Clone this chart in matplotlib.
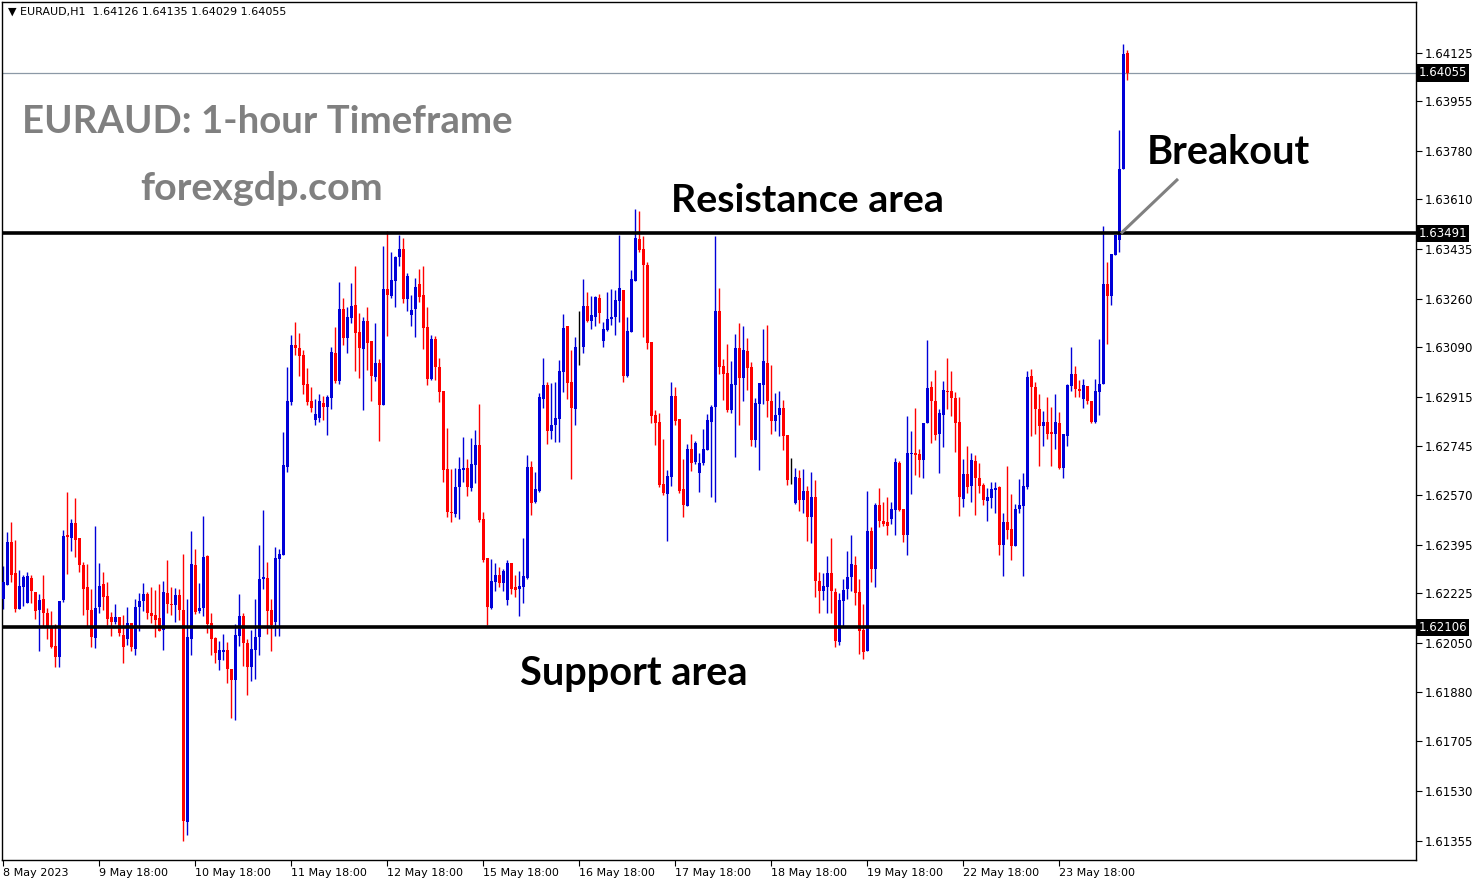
import numpy as np
import matplotlib
matplotlib.use("Agg")
import matplotlib.pyplot as plt
import matplotlib.transforms as mtransforms

# ---- data: EURAUD H1 candles, prices in points (1e-5) ----
open_pts = [
    162206,162255,162406,162297,162170,162248,162192,162279,162230,162167,
    162206,162156,162107,162040,162002,162202,162431,162420,162473,162420,
    162325,162248,162167,162068,162177,162258,162216,162142,162125,162142,
    162079,162065,162121,162030,162177,162198,162223,162156,162149,162139,
    162097,162227,162188,162184,162220,162167,161422,162065,162325,162163,
    162174,162357,162121,162068,161991,162019,162026,161960,161921,162076,
    162146,162051,161967,162026,162072,162276,162279,162167,162125,162346,
    162360,162670,162898,163098,163088,163063,162961,162902,162835,162842,
    162895,162880,162912,163070,162972,163225,163123,163193,163239,163144,
    163084,163183,163112,162986,163035,162887,163295,163271,163323,163408,
    163436,163260,163204,163225,163313,163274,163162,162979,163119,163021,
    162937,162663,162511,162504,162599,162659,162666,162596,162677,162747,
    162487,162350,162174,162265,162290,162262,162202,162332,162248,162241,
    162248,162279,162670,162547,162585,162909,162958,162796,162817,162838,
    163003,163165,162968,162873,163091,163091,163235,163183,163197,163264,
    163112,163151,163190,163197,163253,163292,162989,163144,163323,163471,
    163436,163380,163109,162852,162828,162610,162575,162634,162919,162838,
    162592,162532,162733,162687,162648,162684,162729,162828,162880,163218,
    163025,163000,162870,162958,163088,162982,163077,163021,162764,162891,
    162958,163035,162902,162831,162852,162877,162782,162624,162543,162631,
    162554,162585,162494,162564,162269,162234,162248,162297,162230,162054,
    162198,162241,162283,162325,162230,162097,162023,162445,162311,162536,
    162480,162476,162487,162518,162684,162522,162431,162715,162719,162715,
    162694,162824,162951,162902,162786,162852,162937,162937,162912,162828,
    162557,162645,162603,162691,162631,162606,162550,162561,162589,162599,
    162395,162476,162452,162392,162522,162532,162599,162989,162951,162873,
    162814,162828,162793,162786,162824,162666,162779,162954,162996,162944,
    162909,162954,162902,162828,162933,162961,163313,163271,163415,163467,
    163717,164126,
]
high_pts = [
    162322,162441,162476,162413,162307,162290,162300,162290,162230,162223,
    162290,162174,162163,162118,162198,162448,162582,162487,162561,162420,
    162336,162329,162241,162462,162332,162300,162265,162160,162188,162142,
    162149,162177,162121,162206,162227,162262,162230,162248,162237,162258,
    162269,162343,162248,162244,162241,162364,162206,162445,162381,162262,
    162497,162360,162156,162072,162058,162083,162054,161960,162118,162223,
    162156,162065,162097,162206,162395,162518,162336,162206,162388,162381,
    162793,163021,163134,163179,163141,163081,163018,162951,162909,162926,
    162919,162923,163091,163162,163320,163264,163232,163316,163376,163211,
    163197,163232,163112,163176,163049,163446,163499,163425,163411,163485,
    163474,163351,163274,163334,163366,163376,163232,163134,163130,163053,
    162937,162807,162663,162666,162705,162775,162698,162771,162800,162891,
    162511,162350,162346,162332,162318,162311,162343,162332,162290,162304,
    162420,162712,162691,162652,162930,163053,162968,162965,162968,163046,
    163207,163165,163081,163126,163218,163330,163285,163271,163271,163278,
    163179,163285,163295,163292,163485,163292,163197,163362,163576,163569,
    163482,163390,163109,162870,162859,162768,162659,162968,162951,162838,
    162698,162750,162786,162761,162719,162803,162856,162887,163482,163299,
    163049,163102,163042,163137,163176,163165,163123,163039,162912,162965,
    163155,163169,163028,162930,162937,162905,162782,162701,162666,162659,
    162663,162603,162652,162624,162300,162297,162357,162420,162244,162227,
    162276,162374,162431,162357,162276,162188,162585,162459,162543,162596,
    162547,162564,162547,162701,162691,162522,162849,162796,162877,162733,
    162694,163116,162972,163010,162873,162972,163053,163007,162933,162916,
    162698,162743,162719,162712,162684,162613,162596,162617,162617,162603,
    162508,162673,162575,162539,162627,162648,163007,163014,162968,162926,
    162866,162916,162880,162926,162863,162786,162961,163091,163025,162975,
    162979,162954,162902,162979,163119,163517,163390,163418,163485,163854,
    164156,164135,
]
low_pts = [
    162170,162255,162265,162160,162170,162181,162192,162192,162135,162023,
    162111,162065,162033,161967,161967,162195,162293,162374,162353,162300,
    162149,162107,162037,162033,162156,162167,162114,162076,162118,162076,
    161981,162044,162023,162009,162093,162163,162135,162121,162072,162093,
    162026,162156,162149,162125,162132,161355,161376,162009,162153,162156,
    162146,162086,162009,161981,161956,161991,161910,161787,161780,162040,
    161970,161868,161917,161924,162009,162241,162083,162023,162076,162076,
    162360,162652,162887,163063,162989,162926,162887,162863,162817,162828,
    162835,162782,162873,162965,162961,163098,163070,163176,163007,162982,
    162870,163010,162902,162972,162761,162887,163130,163264,163232,163376,
    163246,163218,163165,163126,163250,163084,162958,162975,162975,162898,
    162617,162494,162476,162494,162487,162617,162568,162585,162613,162476,
    162336,162114,162170,162234,162248,162234,162184,162223,162213,162146,
    162192,162276,162501,162543,162582,162877,162750,162768,162757,162757,
    162933,162909,162627,162817,163028,163070,163179,163155,163165,163176,
    163091,163148,163169,163134,163179,162968,162986,163144,163323,163425,
    163126,163084,162824,162747,162599,162571,162409,162603,162817,162578,
    162494,162532,162655,162680,162582,162677,162729,162564,162547,162996,
    162905,162863,162859,162705,162817,162902,162940,162743,162740,162659,
    162891,162845,162786,162796,162779,162729,162606,162610,162539,162515,
    162508,162409,162402,162213,162156,162202,162156,162156,162037,162044,
    162107,162206,162234,162184,162012,161995,162023,162265,162248,162459,
    162462,162431,162469,162431,162515,162406,162360,162575,162641,162634,
    162631,162824,162754,162764,162648,162740,162873,162849,162722,162497,
    162529,162578,162547,162501,162578,162536,162480,162525,162508,162360,
    162286,162416,162343,162392,162508,162286,162592,162779,162786,162673,
    162743,162768,162673,162733,162663,162631,162743,162937,162916,162916,
    162877,162891,162824,162824,162852,162961,163102,163239,163415,163425,
    163717,164029,
]
close_pts = [
    162265,162406,162290,162170,162251,162283,162286,162234,162163,162202,
    162156,162107,162037,162002,162198,162427,162423,162473,162413,162325,
    162241,162167,162072,162174,162251,162213,162135,162125,162142,162086,
    162037,162121,162037,162177,162198,162223,162156,162146,162132,162093,
    162230,162188,162184,162220,162167,161425,162072,162329,162160,162174,
    162353,162118,162065,162016,162026,162026,161960,161921,162079,162146,
    162051,161967,162030,162072,162276,162283,162163,162114,162350,162364,
    162677,162902,163098,163088,163060,162958,162898,162877,162856,162902,
    162880,162916,163074,162972,163225,163123,163197,163235,163141,163088,
    163183,163105,162989,163035,162887,163295,163274,163327,163408,163436,
    163260,163341,163221,163302,163267,163158,162979,163119,163021,162933,
    162659,162511,162508,162599,162663,162666,162599,162680,162747,162483,
    162343,162177,162269,162290,162262,162304,162332,162241,162237,162251,
    162286,162670,162543,162592,162916,162958,162796,162817,162842,163007,
    163158,162965,162877,163091,163091,163235,163183,163204,163267,163211,
    163155,163190,163197,163257,163299,162989,163148,163330,163474,163432,
    163380,163105,162849,162824,162606,162578,162638,162919,162831,162585,
    162536,162733,162684,162754,162684,162733,162835,162880,163218,163021,
    162996,162870,162961,163088,162982,163081,163018,162764,162895,162965,
    163042,162902,162831,162852,162877,162779,162624,162624,162634,162554,
    162585,162494,162564,162269,162234,162251,162297,162234,162058,162202,
    162237,162283,162329,162227,162093,162019,162445,162311,162536,162480,
    162469,162462,162522,162687,162518,162431,162719,162719,162712,162694,
    162824,162947,162902,162782,162859,162940,162933,162912,162824,162564,
    162645,162599,162694,162631,162603,162554,162564,162592,162596,162395,
    162476,162448,162392,162522,162536,162603,162986,162951,162873,162814,
    162828,162786,162786,162828,162666,162786,162958,162996,162944,162937,
    162958,162902,162828,162937,162961,163313,163271,163418,163485,163717,
    164121,164055,
]

date_labels = ["8 May 2023", "9 May 18:00", "10 May 18:00", "11 May 18:00",
               "12 May 18:00", "15 May 18:00", "16 May 18:00", "17 May 18:00",
               "18 May 18:00", "19 May 18:00", "22 May 18:00", "23 May 18:00"]
bars_per_label = 24

price_ticks = [1.64125, 1.63955, 1.63780, 1.63610, 1.63435, 1.63260, 1.63090,
               1.62915, 1.62745, 1.62570, 1.62395, 1.62225, 1.62050, 1.61880,
               1.61705, 1.61530, 1.61355]

resistance = 1.63491
support = 1.62106
last_price = 1.64055
header = "\u25BC EURAUD,H1  1.64126 1.64135 1.64029 1.64055"

# breakout pointer (data coords: bar index, price)
pointer_x = [279.5, 293.75]
pointer_y = [1.63491, 1.63682]

# ---- build arrays ----
o = np.array(open_pts) / 1e5
h = np.array(high_pts) / 1e5
l = np.array(low_pts) / 1e5
c = np.array(close_pts) / 1e5
n = min(len(o), len(h), len(l), len(c))
o, h, l, c = o[:n], h[:n], l[:n], c[:n]
h = np.maximum(h, np.maximum(o, c))
l = np.minimum(l, np.minimum(o, c))
idx = np.arange(n)

BLUE = "#0000D8"
RED = "#FF0000"
cols = np.where(c > o, BLUE, np.where(c < o, RED, "#000000"))

plt.rcParams['font.family'] = ['DejaVu Sans']
fig = plt.figure(figsize=(14.8, 8.84), dpi=100)
ax = fig.add_axes([2/1480, 24/884, 1414/1480, 858/884])

ax.vlines(idx, l, h, colors=cols, linewidth=1.0, zorder=2)
body_bottom = np.minimum(o, c)
body_h = np.abs(c - o)
body_h = np.maximum(body_h, 0.00001)
ax.bar(idx, body_h, bottom=body_bottom, width=0.75, color=cols,
       linewidth=0, zorder=3)

ax.axhline(resistance, color="black", lw=2.6, zorder=4)
ax.axhline(support, color="black", lw=2.6, zorder=4)
ax.axhline(last_price, color="#8C99A6", lw=0.9, zorder=1)

ax.plot(pointer_x, pointer_y, color="#808080", lw=2.2, zorder=5,
        solid_capstyle="butt")

ax.set_xlim(-0.25, 353.25)
ax.set_ylim(1.61288, 1.64304)

for s in ax.spines.values():
    s.set_color("black")
    s.set_linewidth(1.0)

ax.yaxis.tick_right()
ax.set_yticks(price_ticks)
ax.set_yticklabels([f"{p:.5f}" for p in price_ticks])
ax.tick_params(axis="y", direction="out", length=4, width=0.8, labelsize=8.5,
               pad=2, colors="black")

xt = [i * bars_per_label for i in range(len(date_labels))]
ax.set_xticks(xt)
ax.set_xticklabels(date_labels, ha="left")
ax.tick_params(axis="x", direction="out", length=4, width=0.8, labelsize=8,
               pad=2, colors="black")

trans = mtransforms.blended_transform_factory(ax.transAxes, ax.transData)
for p in (last_price, resistance, support):
    ax.text(1.0016, p, f"{p:.5f}", transform=trans, color="white",
            fontsize=8.5, va="center", ha="left", zorder=10,
            bbox=dict(facecolor="black", edgecolor="none", pad=1.6))

fig.text(8/1480, 1 - 12/884, header, fontsize=8, va="center", ha="left",
         color="black")

fig.text(22/1480, 1 - 122/884, "EURAUD: 1-hour Timeframe", fontsize=27.6,
         fontfamily="Lato", fontweight="bold", color="#808080",
         va="center", ha="left")
fig.text(140/1480, 1 - 189/884, "forexgdp.com", fontsize=28.4,
         fontfamily="Lato", fontweight="bold", color="#808080",
         va="center", ha="left")
fig.text(671/1480, 1 - 200/884, "Resistance area", fontsize=28.4,
         fontfamily="Lato", fontweight="bold", color="black",
         va="center", ha="left")
fig.text(520/1480, 1 - 674/884, "Support area", fontsize=28.6,
         fontfamily="Lato", fontweight="bold", color="black",
         va="center", ha="left")
fig.text(1147/1480, 1 - 153/884, "Breakout", fontsize=28.5,
         fontfamily="Lato", fontweight="bold", color="black",
         va="center", ha="left")

fig.savefig("out.png", dpi=100, facecolor="white")
